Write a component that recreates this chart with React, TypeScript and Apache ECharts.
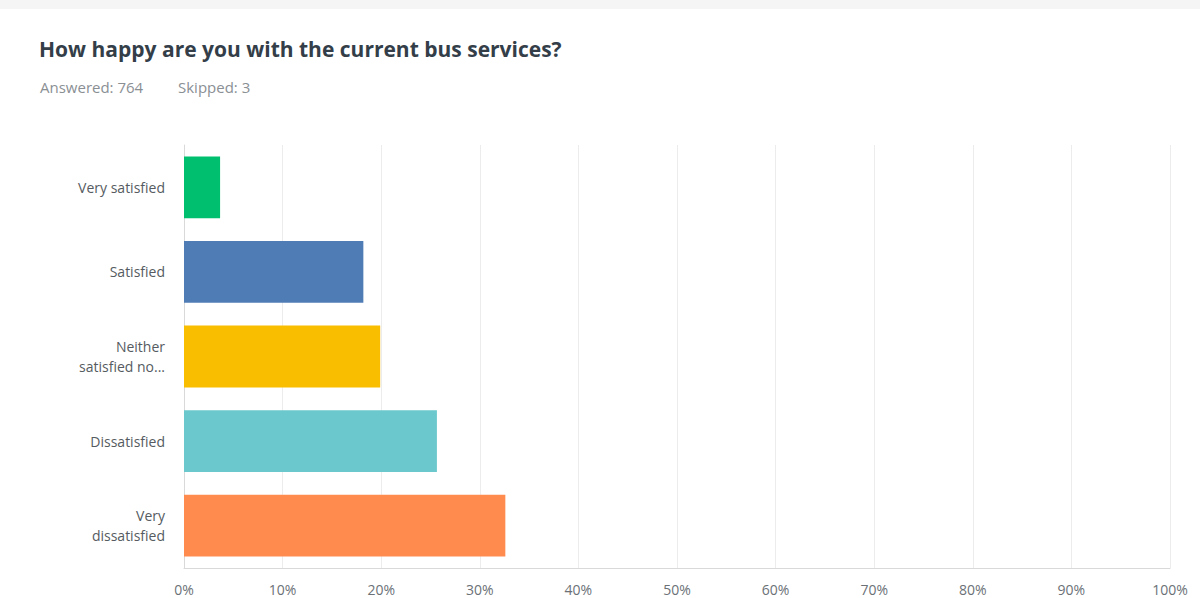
import React, { useEffect, useRef } from "react";
import * as echarts from "echarts";

const categories = ["Very satisfied", "Satisfied", "Neither\nsatisfied no...", "Dissatisfied", "Very\ndissatisfied"];
const values = [3.66, 18.19, 19.9, 25.65, 32.59];
const colors = ["#00BF6F", "#507CB6", "#F9BE00", "#6BC8CD", "#FF8B4F"];
const titleText = "How happy are you with the current bus services?";
const answeredText = "Answered: 764";
const skippedText = "Skipped: 3";

export default function App() {
  const ref = useRef<HTMLDivElement>(null);
  useEffect(() => {
    document.body.style.margin = "0";
    const chart = echarts.init(ref.current!, null, { renderer: "svg" });
    chart.setOption({
      animation: false,
      backgroundColor: "#ffffff",
      graphic: [
        { type: "rect", shape: { x: 0, y: 0, width: 1200, height: 9 }, style: { fill: "#f5f5f5" } },
        {
          type: "text",
          left: 39,
          top: 38,
          style: { text: titleText, font: "bold 21px 'Open Sans'", fill: "#333e48" },
        },
        {
          type: "text",
          left: 40,
          top: 79,
          style: { text: answeredText, font: "15px 'Open Sans'", fill: "#8a8f94" },
        },
        {
          type: "text",
          left: 178,
          top: 79,
          style: { text: skippedText, font: "15px 'Open Sans'", fill: "#8a8f94" },
        },
      ],
      grid: { left: 184, right: 30, top: 145, bottom: 30, containLabel: false },
      xAxis: {
        type: "value",
        min: 0,
        max: 100,
        interval: 10,
        axisLabel: { formatter: "{value}%", color: "#6b7177", fontFamily: "Open Sans", fontSize: 14, margin: 14 },
        axisLine: { show: true, lineStyle: { color: "#d9d9d9" } },
        axisTick: { show: false },
        splitLine: { show: true, lineStyle: { color: "#ececec" } },
      },
      yAxis: {
        type: "category",
        data: categories,
        inverse: true,
        axisLabel: { color: "#555b61", fontFamily: "Open Sans", fontSize: 14, margin: 19, lineHeight: 20, align: "right" },
        axisLine: { show: true, lineStyle: { color: "#d9d9d9" } },
        axisTick: { show: false },
      },
      series: [
        {
          type: "bar",
          data: values.map((v, i) => ({ value: v, itemStyle: { color: colors[i] } })),
          barWidth: "73%",
        },
      ],
    });
    return () => chart.dispose();
  }, []);
  return <div ref={ref} style={{ width: 1200, height: 598 }} />;
}
